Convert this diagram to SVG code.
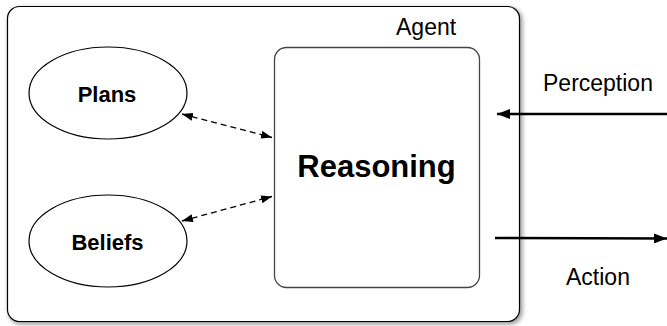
<svg xmlns="http://www.w3.org/2000/svg" width="667" height="326" viewBox="0 0 667 326">
<style>
.lbl{font-family:"Liberation Sans",Arial,sans-serif;fill:#000}
.b{font-weight:bold}
.shape{fill:#fff;stroke:#000;stroke-width:1.2}
.dash{fill:none;stroke:#000;stroke-width:1.3;stroke-dasharray:6 4}
.thick{fill:none;stroke:#000;stroke-width:2.4}
</style>
<defs>
<filter id="sh" x="-5%" y="-5%" width="112%" height="112%">
<feDropShadow dx="2" dy="2" stdDeviation="2.5" flood-color="#000" flood-opacity="0.45"/>
</filter>
<marker id="ah" viewBox="0 0 11 8" refX="11" refY="4" markerUnits="userSpaceOnUse" markerWidth="11" markerHeight="8" orient="auto-start-reverse">
<path d="M0,0 L11,4 L0,8 z" fill="#000" stroke="none"/>
</marker>
<marker id="ahb" viewBox="0 0 13 10" refX="13" refY="5" markerUnits="userSpaceOnUse" markerWidth="13" markerHeight="10" orient="auto">
<path d="M0,0 L13,5 L0,10 z" fill="#000" stroke="none"/>
</marker>
</defs>
<rect width="667" height="326" fill="#fff"/>
<g id="agent">
<rect x="7.5" y="6.5" width="512" height="315" rx="12" class="shape" filter="url(#sh)"/>
<text x="396" y="35" class="lbl" font-size="23">Agent</text>
</g>
<g id="reasoning">
<rect x="274.5" y="47.5" width="205" height="240" rx="12" fill="#fff" stroke="#444" stroke-width="1.3"/>
<text x="376.5" y="177" class="lbl b" font-size="31" text-anchor="middle">Reasoning</text>
</g>
<g id="plans">
<ellipse cx="108" cy="93" rx="79" ry="46" class="shape"/>
<text x="107" y="101.5" class="lbl b" font-size="22" text-anchor="middle">Plans</text>
</g>
<g id="beliefs">
<ellipse cx="108" cy="241" rx="79" ry="46" class="shape"/>
<text x="107.5" y="250" class="lbl b" font-size="22" text-anchor="middle">Beliefs</text>
</g>
<g id="connectors">
<path d="M182,114 L272,137.5" class="dash" marker-start="url(#ah)" marker-end="url(#ah)"/>
<path d="M182,221 L272,196.5" class="dash" marker-start="url(#ah)" marker-end="url(#ah)"/>
<path d="M667,114 L497,114" class="thick" marker-end="url(#ahb)"/>
<path d="M495,238 L667,238.5" class="thick" marker-end="url(#ahb)"/>
</g>
<text x="543" y="91" class="lbl" font-size="23">Perception</text>
<text x="566" y="285" class="lbl" font-size="23">Action</text>
</svg>
